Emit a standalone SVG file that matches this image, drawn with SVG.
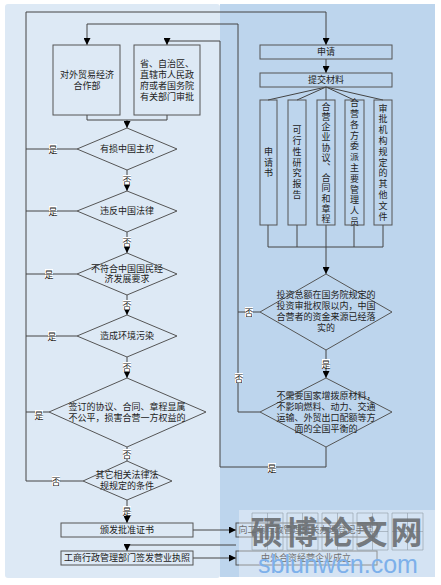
<svg xmlns="http://www.w3.org/2000/svg" width="441" height="585" viewBox="0 0 441 585">
<defs>
<marker id="arr" markerUnits="userSpaceOnUse" markerWidth="8" markerHeight="7" refX="7" refY="3.5" orient="auto"><path d="M0 0L7 3.5L0 7Z" fill="#000"/></marker>
</defs>
<style>
text{font-family:"Noto Sans CJK SC","Liberation Sans",sans-serif;font-size:9px;fill:#222;text-anchor:middle}
.s{fill:none;stroke:#555;stroke-width:1}
.l{fill:none;stroke:#444;stroke-width:1}
.a{marker-end:url(#arr)}
.v{writing-mode:vertical-rl;text-orientation:upright;font-size:9px}
.lb{fill:#fff}
.g{fill:none;stroke:#8f9aa6;stroke-width:.6}
</style>
<rect width="441" height="585" fill="#fff"/>
<rect x="5" y="4" width="215" height="574" rx="3" fill="#dde9f5"/>
<rect x="220" y="4" width="215" height="573" fill="#bdd5ed"/>
<g id="connectors">
<path class="l" d="M26 12V481H83"/>
<path class="l a" d="M26 12H326V45"/>
<path class="l a" d="M238 412V24H87V45"/>
<path class="l a" d="M220 467V41H167V45"/>
<path class="l" d="M220 467H326V447"/>
<path class="l" d="M87 115V120H167V115"/>
<path class="l a" d="M127 120V128"/>
<path class="l" d="M77 149H26M77 211H26M77 274H26M77 336H26M49 412H26"/>
<path class="l a" d="M127 170V191"/><path class="l a" d="M127 232V253"/><path class="l a" d="M127 295V315"/><path class="l a" d="M127 357V378"/>
<path class="l" d="M127 447V461"/>
<path class="l a" d="M127 500V523"/>
<path class="l a" d="M193 530H236"/><path class="l a" d="M193 558H236"/>
<path class="l a" d="M236 545H127V551"/>
<path class="l a" d="M326 59V73"/>
<path class="l" d="M326 87L268 100M326 87L297 100M326 87V100M326 87L354 100M326 87L383 100"/>
<path class="l" d="M268 225V247H383V225M297 225V247M354 225V247"/>
<path class="l a" d="M326 225V274"/>
<path class="l a" d="M326 350V378"/>
<path class="l" d="M260 312H238M260 412H238"/>
</g>
<g id="n1"><rect class="s" x="53" y="45" width="67" height="70"/><text x="87" y="78">对外贸易经济</text><text x="87" y="89">合作部</text></g>
<g id="n2"><rect class="s" x="134" y="45" width="66" height="70"/><text x="167" y="67">省、自治区、</text><text x="167" y="78">直辖市人民政</text><text x="167" y="89">府或者国务院</text><text x="167" y="100">有关部门审批</text></g>
<g id="d1"><path class="s" d="M127 128L177 149L127 170L77 149Z"/><text x="127" y="152">有损中国主权</text></g>
<g id="d2"><path class="s" d="M127 191L177 211L127 232L77 211Z"/><text x="127" y="214">违反中国法律</text></g>
<g id="d3"><path class="s" d="M127 253L177 274L127 295L77 274Z"/><text x="127" y="272">不符合中国国民经</text><text x="127" y="282">济发展要求</text></g>
<g id="d4"><path class="s" d="M127 315L177 336L127 357L77 336Z"/><text x="127" y="339">造成环境污染</text></g>
<g id="d5"><path class="s" d="M127 378L206 412L127 447L49 412Z"/><text x="127" y="410">签订的协议、合同、章程显属</text><text x="127" y="421">不公平，损害合营一方权益的</text></g>
<g id="d6"><path class="s" d="M127 461L172 481L127 500L83 481Z"/><text x="127" y="478">其它相关法律法</text><text x="127" y="489">规规定的条件</text></g>
<g id="n3"><rect class="s" x="61" y="523" width="132" height="14"/><text x="127" y="533">颁发批准证书</text></g>
<g id="n4"><rect class="s" x="61" y="551" width="132" height="14"/><text x="127" y="561">工商行政管理部门签发营业执照</text></g>
<g id="r1"><rect class="s" x="260" y="45" width="132" height="14"/><text x="326" y="55">申请</text></g>
<g id="r2"><rect class="s" x="260" y="73" width="132" height="14"/><text x="326" y="83">提交材料</text></g>
<g id="v1"><rect class="s" x="260" y="100" width="17" height="125"/><text class="v" x="268.500" y="163" letter-spacing="1.800">申请书</text></g>
<g id="v2"><rect class="s" x="288" y="100" width="18" height="125"/><text class="v" x="297" y="163" letter-spacing="1.800">可行性研究报告</text></g>
<g id="v3"><rect class="s" x="317" y="100" width="18" height="125"/><text class="v" x="326" y="163" letter-spacing="1.200">合营企业协议、合同和章程</text></g>
<g id="v4"><rect class="s" x="345" y="100" width="19" height="125"/><text class="v" x="354.500" y="163" letter-spacing="1.800">合营各方委派主要管理人员</text></g>
<g id="v5"><rect class="s" x="374" y="100" width="18" height="125"/><text class="v" x="383" y="163" letter-spacing="1.800">审批机构规定的其他文件</text></g>
<g id="d7"><path class="s" d="M326 274L392 312L326 350L260 312Z"/><text x="326" y="298">投资总额在国务院规定的</text><text x="326" y="309">投资审批权限以内，中国</text><text x="326" y="320">合营者的资金来源已经落</text><text x="326" y="331">实的</text></g>
<g id="d8"><path class="s" d="M326 378L392 412L326 447L260 412Z"/><text x="326" y="399">不需要国家增拨原材料，</text><text x="326" y="410">不影响燃料、动力、交通</text><text x="326" y="421">运输、外贸出口配额等方</text><text x="326" y="432">面的全国平衡的</text></g>
<g id="labels">
<rect class="lb" x="49" y="144" width="8" height="10"/><text x="53" y="152.500">是</text>
<rect class="lb" x="49" y="206" width="8" height="10"/><text x="53" y="214.500">是</text>
<rect class="lb" x="45" y="269" width="8" height="10"/><text x="49" y="277.500">是</text>
<rect class="lb" x="48" y="331" width="8" height="10"/><text x="52" y="339.500">是</text>
<rect class="lb" x="35" y="410" width="8" height="10"/><text x="39" y="418.500">是</text>
<rect class="lb" x="52" y="476" width="8" height="10"/><text x="56" y="484.500">否</text>
<rect class="lb" x="123" y="175" width="8" height="10"/><text x="127" y="183.500">否</text>
<rect class="lb" x="123" y="237" width="8" height="10"/><text x="127" y="245.500">否</text>
<rect class="lb" x="123" y="300" width="8" height="10"/><text x="127" y="308.500">否</text>
<rect class="lb" x="123" y="362" width="8" height="10"/><text x="127" y="370.500">否</text>
<rect class="lb" x="123" y="449" width="8" height="10"/><text x="127" y="457.500">否</text>
<rect class="lb" x="123" y="506" width="8" height="10"/><text x="127" y="514.500">是</text>
<rect class="lb" x="245" y="307" width="8" height="10"/><text x="249" y="315.500">否</text>
<rect class="lb" x="235" y="373" width="8" height="10"/><text x="239" y="381.500">否</text>
<rect class="lb" x="322" y="359" width="8" height="10"/><text x="326" y="367.500">是</text>
<rect class="lb" x="268" y="463" width="8" height="10"/><text x="272" y="471.500">是</text>
</g>
<g id="n5"><rect class="s" x="236" y="523" width="141" height="14"/><text x="306" y="533">向工商行政管理机关办理登记手续</text></g>
<g id="n6"><rect class="s" x="236" y="551" width="141" height="14"/><text x="306" y="561">中外合资经营企业成立</text></g>
<rect x="239" y="510" width="196" height="67" fill="#fff" opacity=".35"/>
<path class="g" d="M252 513h31v37h-31zM267.500 513v37M252 531.500h31M287 513h31v37h-31zM302.500 513v37M287 531.500h31M322 513h31v37h-31zM337.500 513v37M322 531.500h31M357 513h31v37h-31zM372.500 513v37M357 531.500h31M392 513h31v37h-31zM407.500 513v37M392 531.500h31"/>
<text x="338" y="544" style="font-size:32px;fill:#6b6f73;font-weight:700;letter-spacing:3px" opacity=".9">硕博论文网</text>
<text x="338" y="573" style="font-size:25px;fill:#7db0ea;font-family:'Liberation Sans',sans-serif">sblunwen.com</text>
</svg>
